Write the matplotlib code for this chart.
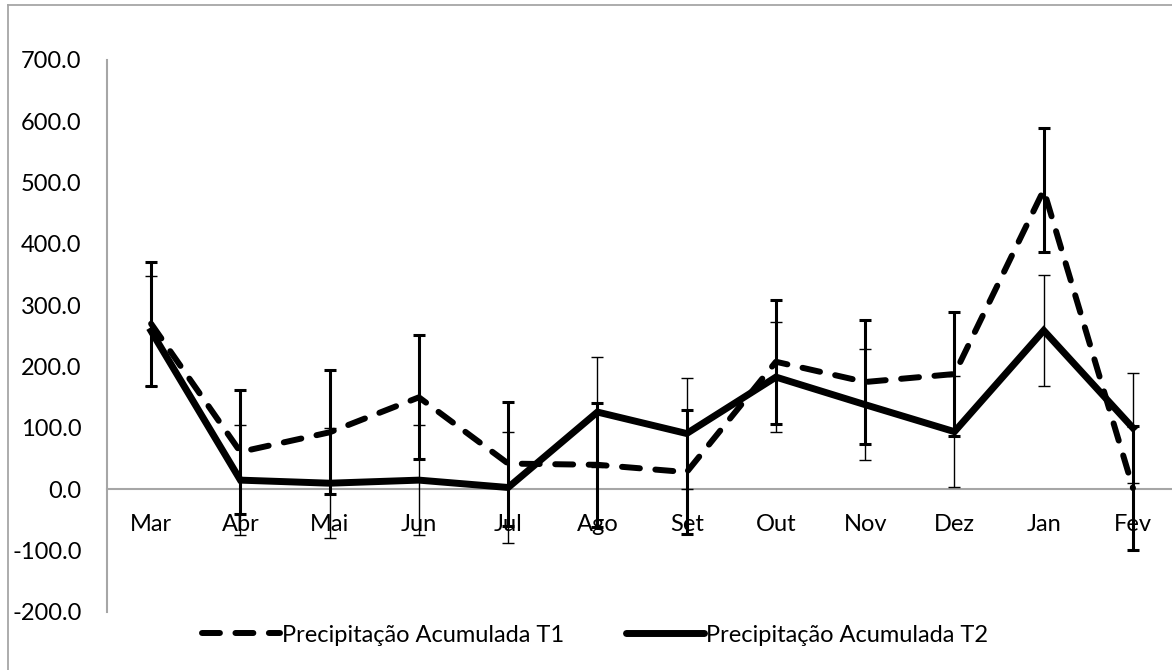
import matplotlib
matplotlib.use("Agg")
import matplotlib.pyplot as plt
from matplotlib.ticker import FormatStrFormatter, FixedLocator
from matplotlib.lines import Line2D

plt.rcParams["font.family"] = ["Lato", "DejaVu Sans"]
plt.rcParams["axes.unicode_minus"] = False

months = ["Mar", "Abr", "Mai", "Jun", "Jul", "Ago", "Set", "Out", "Nov", "Dez", "Jan", "Fev"]
t1 = [270, 61, 93, 150, 42, 40, 28, 208, 175, 188, 488, 2]
t2 = [258, 15, 10, 15, 3, 126, 91, 183, 138, 94, 259, 100]
err_t1 = [101, 101, 101, 101, 101, 101, 101, 101, 101, 101, 101, 101]
err_t2 = [90, 90, 90, 90, 90, 90, 90, 90, 90, 90, 90, 90]
yticks = [-200, -100, 0, 100, 200, 300, 400, 500, 600, 700]
label_t1 = "Precipitação Acumulada T1"
label_t2 = "Precipitação Acumulada T2"

W, H = 1172, 670
fig = plt.figure(figsize=(W / 100, H / 100), dpi=100)
ax = fig.add_axes([106.5 / W, 58 / H, (1177.6 - 106.5) / W, 552 / H])

x = list(range(len(months)))
gray = "#a6a6a6"
dash_pattern = (3.0, 2.6)

# series lines
ax.plot(x, t2, color="black", lw=5.0, solid_joinstyle="miter", zorder=3)
ax.plot(x, t1, color="black", lw=4.3, dashes=dash_pattern,
        dash_capstyle="round", solid_joinstyle="round", zorder=3)

# error bars: thick for T1, thin for T2
ax.errorbar(x, t1, yerr=err_t1, fmt="none", ecolor="black",
            elinewidth=2.2, capsize=4.5, capthick=2.2, zorder=4)
ax.errorbar(x, t2, yerr=err_t2, fmt="none", ecolor="black",
            elinewidth=1.0, capsize=4.5, capthick=1.0, zorder=4)

ax.set_xlim(-0.5, len(months) - 0.5)
ax.set_ylim(-200, 700)
ax.yaxis.set_major_locator(FixedLocator(yticks))
ax.yaxis.set_major_formatter(FormatStrFormatter("%.1f"))
ax.set_xticks(x)
ax.set_xticklabels(months)

for side in ("top", "right"):
    ax.spines[side].set_visible(False)
ax.spines["bottom"].set_position(("data", 0))
ax.spines["bottom"].set_color(gray)
ax.spines["bottom"].set_linewidth(1.5)
ax.spines["left"].set_color(gray)
ax.spines["left"].set_linewidth(1.5)
ax.tick_params(axis="x", length=0, pad=18, labelsize=17, colors="black")
ax.tick_params(axis="y", length=0, pad=18, labelsize=17, colors="black")
for lbl in ax.get_xticklabels() + ax.get_yticklabels():
    lbl.set_color("black")

# legend
handles = [
    Line2D([], [], color="black", lw=4.3, dashes=dash_pattern, dash_capstyle="round"),
    Line2D([], [], color="black", lw=5.0, solid_capstyle="round"),
]
fig.legend(handles, [label_t1, label_t2], loc="center", ncol=2,
           bbox_to_anchor=(595 / W, 1 - 635 / H), frameon=False,
           fontsize=17, handlelength=3.3, handletextpad=0.1, columnspacing=2.6)

# chart area border
fig.add_artist(Line2D([8 / W, 8 / W], [0, 1 - 5 / H], transform=fig.transFigure,
                      color=gray, lw=1.3))
fig.add_artist(Line2D([8 / W, 1], [1 - 5 / H, 1 - 5 / H], transform=fig.transFigure,
                      color=gray, lw=1.3))

fig.savefig("out.png", dpi=100)
